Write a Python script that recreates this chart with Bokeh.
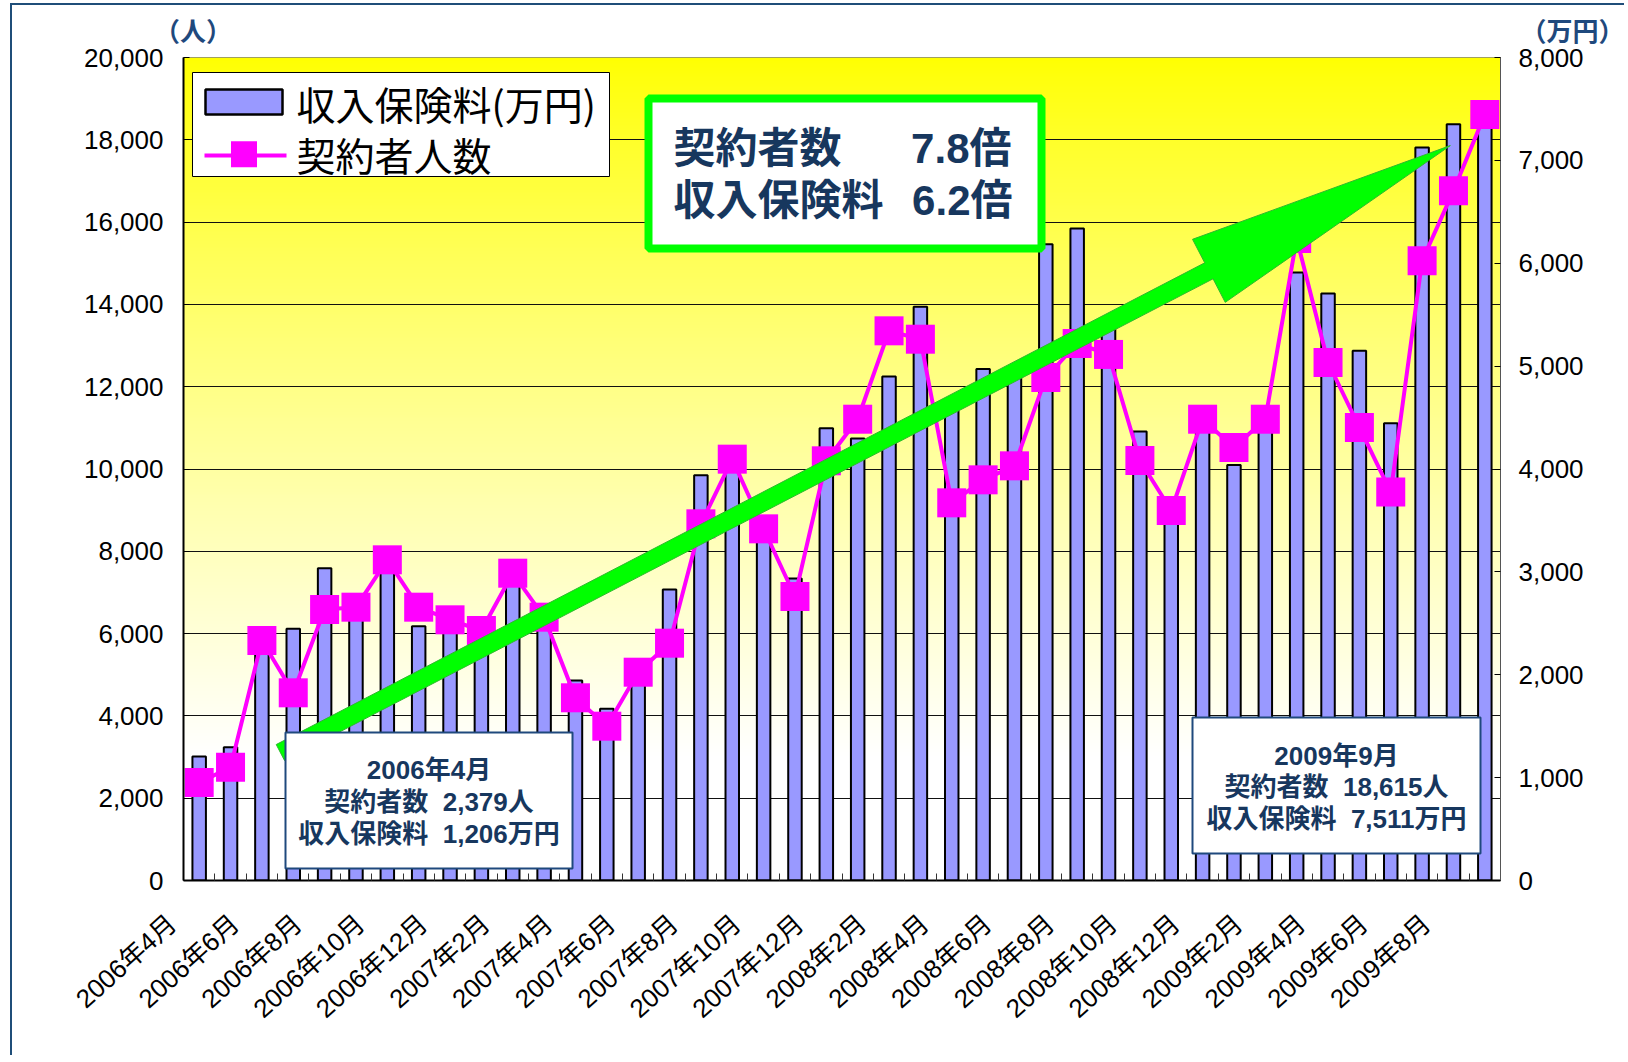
import numpy as np
from math import radians, hypot
from bokeh.plotting import figure
from bokeh.models import Range1d, LinearAxis, FixedTicker, NumeralTickFormatter
from bokeh.core.properties import value
from bokeh.embed import file_html
from bokeh.resources import INLINE

# ---------------- data ----------------
months = [
    "2006年4月", "2006年5月", "2006年6月", "2006年7月", "2006年8月", "2006年9月",
    "2006年10月", "2006年11月", "2006年12月", "2007年1月", "2007年2月", "2007年3月",
    "2007年4月", "2007年5月", "2007年6月", "2007年7月", "2007年8月", "2007年9月",
    "2007年10月", "2007年11月", "2007年12月", "2008年1月", "2008年2月", "2008年3月",
    "2008年4月", "2008年5月", "2008年6月", "2008年7月", "2008年8月", "2008年9月",
    "2008年10月", "2008年11月", "2008年12月", "2009年1月", "2009年2月", "2009年3月",
    "2009年4月", "2009年5月", "2009年6月", "2009年7月", "2009年8月", "2009年9月",
]
# 収入保険料 (万円) - right axis
premium = [1206, 1296, 2300, 2446, 3036, 2650, 3100, 2472, 2500, 2450, 2950, 2500,
           1944, 1669, 2000, 2829, 3940, 4100, 3500, 2935, 4397, 4297, 4899, 5577,
           4600, 4971, 4920, 6185, 6338, 5380, 4364, 3600, 4480, 4040, 4450, 5910,
           5706, 5150, 4445, 7125, 7352, 7511]
# 契約者人数 (人) - left axis
members = [2379, 2754, 5832, 4561, 6586, 6642, 7793, 6642, 6335, 6075, 7468, 6399,
           4440, 3750, 5062, 5767, 8668, 10239, 8546, 6902, 10199, 11210, 13358, 13154,
           9178, 9737, 10077, 12223, 13050, 12784, 10206, 8991, 11210, 10522, 11210, 15600,
           12588, 11009, 9440, 15060, 16760, 18615]
left_ticks = list(range(0, 20001, 2000))
right_ticks = list(range(0, 8001, 1000))
label_ticks = list(range(0, 42, 2))
unit_left, unit_right = "（人）", "（万円）"

# ---------------- layout constants (page pixels) ----------------
FL_P, FR_P, FT_P, FB_P = 183, 1500, 57, 880
ORG_X, ORG_Y = 12, 5   # page offset of the canvas (margin + 2px border)
W, H = 1614, 1052
N = len(months)
YMAX_L, YMAX_R = 20000, 8000

def dx(px):
    return -0.5 + (px - FL_P) / (FR_P - FL_P) * N

def dy(py):
    return (FB_P - py) / (FB_P - FT_P) * YMAX_L

def px_of(x):
    return FL_P + (x + 0.5) / N * (FR_P - FL_P)

def py_of(y):
    return FB_P - y / YMAX_L * (FB_P - FT_P)

FONT = "Liberation Sans, Noto Sans CJK JP"
CJK = "Noto Sans CJK JP"
NAVY = "#17375E"
BOXBLUE = "#1F497D"

p = figure(width=W, height=H, output_backend="svg", toolbar_location=None,
           x_range=Range1d(-0.5, N - 0.5), y_range=Range1d(0, YMAX_L),
           min_border_left=FL_P - ORG_X, min_border_top=FT_P - ORG_Y,
           min_border_right=W - (FR_P - ORG_X), min_border_bottom=H - (FB_P - ORG_Y))
p.extra_y_ranges = {"right": Range1d(0, YMAX_R)}
p.styles = {"border-left": "2px solid #1F4E79", "border-top": "2px solid #1F4E79",
            "margin-left": "10px", "margin-top": "3px"}
p.background_fill_color = "white"
p.border_fill_color = "white"
p.outline_line_color = "#808080"
p.outline_line_width = 1

# gradient background (yellow at top -> white at bottom)
NB = 256
rows = np.zeros((NB, 1), dtype=np.uint32)
view = rows.view(dtype=np.uint8).reshape((NB, 1, 4))
for r in range(NB):
    t = 1 - (r + 0.5) / NB
    b = int(round(255 * min(1.0, t / 0.85) ** 0.85))
    view[r, 0] = [255, 255, b, 255]
p.image_rgba(image=[rows], x=-0.5, y=0, dw=N, dh=YMAX_L, level="image")

# grid
p.xgrid.visible = False
p.ygrid.ticker = FixedTicker(ticks=left_ticks)
p.ygrid.grid_line_color = "#111111"
p.ygrid.grid_line_width = 1

# left axis
ya = p.left[0]
ya.ticker = FixedTicker(ticks=left_ticks)
ya.formatter = NumeralTickFormatter(format="0,0")
ya.major_label_text_font = FONT
ya.major_label_text_font_size = "26px"
ya.major_label_text_color = "black"
ya.major_tick_out = 0
ya.major_tick_in = 6
ya.minor_tick_out = 0
ya.minor_tick_in = 0
ya.major_label_standoff = 20
ya.axis_line_color = "black"
ya.axis_line_width = 2

# bottom axis
xa = p.below[0]
xa.ticker = FixedTicker(ticks=label_ticks, minor_ticks=[i + 0.5 for i in range(N - 1)])
xa.major_label_overrides = {i: months[i] + "\u00a0" * 5 for i in label_ticks}
xa.major_label_orientation = radians(42)
xa.major_label_text_font = FONT
xa.major_label_text_font_size = "26px"
xa.major_label_text_color = "black"
xa.major_label_standoff = 15
xa.major_tick_in = 0
xa.major_tick_out = 0
xa.minor_tick_in = 7
xa.minor_tick_out = 0
xa.minor_tick_line_color = "#333333"
xa.axis_line_color = "black"
xa.axis_line_width = 2

# right axis
ra = LinearAxis(y_range_name="right", ticker=FixedTicker(ticks=right_ticks),
                formatter=NumeralTickFormatter(format="0,0"))
ra.major_label_text_font = FONT
ra.major_label_text_font_size = "26px"
ra.major_label_text_color = "black"
ra.major_tick_out = 0
ra.major_tick_in = 6
ra.minor_tick_out = 0
ra.minor_tick_in = 0
ra.major_label_standoff = 18
ra.axis_line_color = "#555555"
ra.axis_line_width = 1
p.add_layout(ra, "right")

# unit captions as an axis above the frame
UL_X, UR_X = -0.2, N - 0.5
ta = LinearAxis(ticker=FixedTicker(ticks=[UL_X, UR_X], minor_ticks=[]))
ta.major_label_overrides = {UL_X: unit_left, UR_X: "\u00a0" * 23 + unit_right}
ta.major_label_text_font = FONT
ta.major_label_text_font_size = "26px"
ta.major_label_text_font_style = "bold"
ta.major_label_text_color = BOXBLUE
ta.major_label_standoff = 11
ta.major_label_orientation = "horizontal"
ta.major_tick_in = 0
ta.major_tick_out = 0
ta.minor_tick_in = 0
ta.minor_tick_out = 0
ta.axis_line_color = None
p.add_layout(ta, "above")

idx = list(range(N))

# bars
p.vbar(x=idx, top=premium, width=0.43, y_range_name="right",
       fill_color="#9999FF", line_color="black", line_width=2)

# line + markers
p.line(idx, members, line_color="#FF00FF", line_width=4)
p.scatter(idx, members, marker="square", size=29, fill_color="#FF00FF", line_color=None)

# big green arrow (tail/tip in data units)
ARROW_TAIL = (2.59, 3110)
ARROW_TIP = (39.9, 17860)
HEAD_LEN, HEAD_HW, SHAFT_HW = 272, 35.5, 9
tx, ty = px_of(ARROW_TAIL[0]), py_of(ARROW_TAIL[1])
hx, hy = px_of(ARROW_TIP[0]), py_of(ARROW_TIP[1])
L = hypot(hx - tx, hy - ty)
ux, uy = (hx - tx) / L, (hy - ty) / L
nx, ny = -uy, ux
bx, by = hx - ux * HEAD_LEN, hy - uy * HEAD_LEN
poly = [(tx + nx * SHAFT_HW, ty + ny * SHAFT_HW), (bx + nx * SHAFT_HW, by + ny * SHAFT_HW),
        (bx + nx * HEAD_HW, by + ny * HEAD_HW), (hx, hy),
        (bx - nx * HEAD_HW, by - ny * HEAD_HW), (bx - nx * SHAFT_HW, by - ny * SHAFT_HW),
        (tx - nx * SHAFT_HW, ty - ny * SHAFT_HW)]
p.patch([dx(a) for a, b in poly], [dy(b) for a, b in poly],
        fill_color="#00FF00", line_color="#2EB82E", line_width=1)

# info boxes
def info_box(l, t, r, b, lines, ys):
    p.quad(left=dx(l), right=dx(r), top=dy(t), bottom=dy(b),
           fill_color="white", line_color=BOXBLUE, line_width=2)
    cx = (l + r) / 2
    p.text(x=[dx(cx)] * len(lines), y=[dy(v) for v in ys], text=lines,
           text_font=value(FONT), text_font_size="26px", text_font_style="bold",
           text_color=NAVY, text_align="center", text_baseline="middle")

info_box(285, 732, 572, 868,
         [months[0], f"契約者数\u00a0\u00a0{members[0]:,}人", f"収入保険料\u00a0\u00a0{premium[0]:,}万円"],
         [769.5, 801.5, 833])
info_box(1192, 717, 1480, 853,
         [months[-1], f"契約者数\u00a0\u00a0{members[-1]:,}人", f"収入保険料\u00a0\u00a0{premium[-1]:,}万円"],
         [755, 786.7, 818.5])

# green summary box
p.quad(left=dx(648), right=dx(1041), top=dy(98), bottom=dy(248),
       fill_color="white", line_color="#00FF00", line_width=8)
p.text(x=[dx(673), dx(673)], y=[dy(148), dy(199.5)], text=["契約者数", "収入保険料"],
       text_font=value(FONT), text_font_size="42px", text_font_style="bold",
       text_color=NAVY, text_align="left", text_baseline="middle")
ratio_m = members[-1] / members[0]
ratio_p = premium[-1] / premium[0]
p.text(x=[dx(1011), dx(1012)], y=[dy(148), dy(199.5)],
       text=[f"{ratio_m:.1f}倍", f"{ratio_p:.1f}倍"],
       text_font=value(FONT), text_font_size="42px", text_font_style="bold",
       text_color=NAVY, text_align="right", text_baseline="middle")

# legend (manual)
p.quad(left=dx(192), right=dx(609), top=dy(72), bottom=dy(176),
       fill_color="white", line_color="black", line_width=1)
p.quad(left=dx(205), right=dx(282), top=dy(89), bottom=dy(114),
       fill_color="#9999FF", line_color="black", line_width=2.5)
p.line([dx(204), dx(286)], [dy(155), dy(155)], line_color="#FF00FF", line_width=4)
p.scatter([dx(243.5)], [dy(153.7)], marker="square", size=26, fill_color="#FF00FF", line_color=None)
p.text(x=[dx(296), dx(296)], y=[dy(102), dy(153.7)], text=["収入保険料(万円)", "契約者人数"],
       text_font=value(CJK), text_font_size="39px", text_color="black",
       text_align="left", text_baseline="middle")

open("out.html", "w").write(file_html(p, INLINE))
